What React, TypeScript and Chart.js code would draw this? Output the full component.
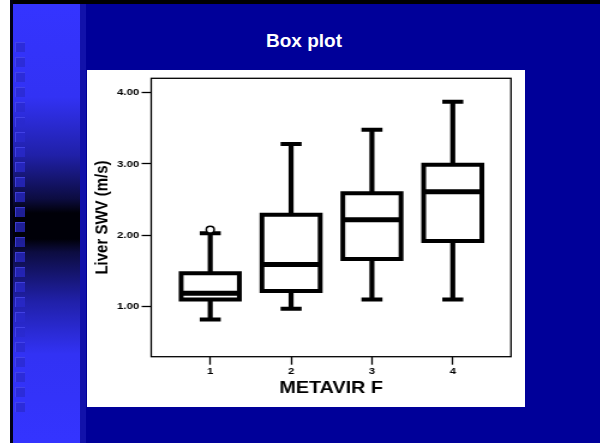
import React, { useEffect, useRef } from 'react';
import { Chart, registerables } from 'chart.js';

Chart.register(...registerables);

// ---- data ----
const categories = ['1', '2', '3', '4'];
const whiskerLow = [0.82, 0.97, 1.1, 1.1];
const quartile1 = [1.1, 1.22, 1.67, 1.92];
const medians = [1.19, 1.59, 2.22, 2.61];
const quartile3 = [1.47, 2.29, 2.59, 2.99];
const whiskerHigh = [2.03, 3.28, 3.48, 3.87];
const outlierCategory = [1];
const outlierValue = [2.08];
const yTickValues = [1, 2, 3, 4];
const xLabel = 'METAVIR F';
const yLabel = 'Liver SWV (m/s)';
const slideTitle = 'Box plot';

const FONT = "'Liberation Sans', Arial, Helvetica, sans-serif";
const BOX_HALF = 0.36;
const CAP_HALF = 0.13;

const framePlugin = {
  id: 'frame',
  beforeDatasetsDraw(chart: any) {
    const { ctx, chartArea: a } = chart;
    ctx.save();
    ctx.strokeStyle = '#000';
    ctx.lineWidth = 1.3;
    ctx.strokeRect(a.left, a.top, a.right - a.left, a.bottom - a.top);
    ctx.restore();
  },
};

function buildDatasets() {
  const brk = (x: number) => ({ x, y: null as any });
  const boxes: any[] = [];
  const meds: any[] = [];
  const whiskers: any[] = [];
  const caps: any[] = [];
  categories.forEach((_, i) => {
    const c = i + 1;
    boxes.push(
      { x: c, y: quartile1[i] },
      { x: c + BOX_HALF, y: quartile1[i] },
      { x: c + BOX_HALF, y: quartile3[i] },
      { x: c - BOX_HALF, y: quartile3[i] },
      { x: c - BOX_HALF, y: quartile1[i] },
      { x: c, y: quartile1[i] },
      brk(c)
    );
    meds.push({ x: c - BOX_HALF, y: medians[i] }, { x: c + BOX_HALF, y: medians[i] }, brk(c));
    whiskers.push(
      { x: c, y: quartile3[i] },
      { x: c, y: whiskerHigh[i] },
      brk(c),
      { x: c, y: quartile1[i] },
      { x: c, y: whiskerLow[i] },
      brk(c)
    );
    caps.push(
      { x: c - CAP_HALF, y: whiskerHigh[i] },
      { x: c + CAP_HALF, y: whiskerHigh[i] },
      brk(c),
      { x: c - CAP_HALF, y: whiskerLow[i] },
      { x: c + CAP_HALF, y: whiskerLow[i] },
      brk(c)
    );
  });
  const lineStyle = {
    showLine: true,
    borderColor: '#000',
    pointRadius: 0,
    pointHoverRadius: 0,
    pointHitRadius: 0,
    spanGaps: false,
    tension: 0,
    borderJoinStyle: 'miter',
    borderCapStyle: 'butt',
    fill: false,
  };
  return [
    {
      label: 'outliers',
      data: outlierCategory.map((c, i) => ({ x: c, y: outlierValue[i] })),
      showLine: false,
      pointRadius: 3.3,
      pointBackgroundColor: '#fff',
      pointBorderColor: '#000',
      pointBorderWidth: 1.5,
    },
    { label: 'medians', data: meds, borderWidth: 5, ...lineStyle },
    { label: 'boxes', data: boxes, borderWidth: 4, ...lineStyle },
    { label: 'caps', data: caps, borderWidth: 4, ...lineStyle },
    { label: 'whiskers', data: whiskers, borderWidth: 4.2, ...lineStyle },
  ];
}

function BoxPlot() {
  const ref = useRef<HTMLCanvasElement | null>(null);
  useEffect(() => {
    if (!ref.current) return;
    const tickFont = { family: FONT, size: 9.5, weight: 'bold' as const };
    const chart = new Chart(ref.current, {
      type: 'scatter',
      data: { datasets: buildDatasets() as any },
      options: {
        responsive: false,
        animation: false,
        events: [],
        layout: { padding: { top: 8.3, right: 11.7, bottom: 0, left: 0 } },
        plugins: {
          legend: { display: false },
          tooltip: { enabled: false },
          title: { display: false },
        },
        scales: {
          x: {
            type: 'linear',
            min: 0.27,
            max: 4.72,
            afterBuildTicks: (s: any) => {
              s.ticks = categories.map((_, i) => ({ value: i + 1 }));
            },
            afterFit: (s: any) => {
              s.height = 50.3;
            },
            ticks: {
              autoSkip: false,
              maxRotation: 0,
              padding: 1,
              color: '#000',
              font: tickFont,
              callback: (_v: any, i: number) => categories[i],
            },
            grid: {
              display: true,
              drawOnChartArea: false,
              drawTicks: true,
              tickLength: 8,
              tickColor: '#000',
              tickWidth: 1.3,
            },
            border: { display: false },
            title: {
              display: true,
              text: xLabel,
              color: '#000',
              font: { family: FONT, size: 16.5, weight: 'bold' },
              padding: { top: 0, bottom: 8.5 },
            },
          },
          y: {
            type: 'linear',
            min: 0.3,
            max: 4.2,
            afterBuildTicks: (s: any) => {
              s.ticks = yTickValues.map((v) => ({ value: v }));
            },
            afterFit: (s: any) => {
              s.width = 53.5;
            },
            ticks: {
              padding: 2,
              color: '#000',
              font: tickFont,
              callback: (v: any) => Number(v).toFixed(2),
            },
            grid: {
              display: true,
              drawOnChartArea: false,
              drawTicks: true,
              tickLength: 8,
              tickColor: '#000',
              tickWidth: 1.3,
            },
            border: { display: false },
            title: {
              display: true,
              text: yLabel,
              color: '#000',
              font: { family: FONT, size: 15, weight: 'bold' },
              padding: { top: 4, bottom: 0 },
            },
          },
        },
      } as any,
      plugins: [framePlugin],
    });
    return () => chart.destroy();
  }, []);
  return (
    <canvas
      ref={ref}
      width={365}
      height={337}
      style={{ width: '438px', height: '337px', display: 'block' }}
    />
  );
}

export default function App() {
  const squares = Array.from({ length: 25 }, (_, i) => i);
  return (
    <div
      style={{
        position: 'absolute',
        left: 0,
        top: 0,
        width: 600,
        height: 443,
        background: '#fff',
        overflow: 'hidden',
      }}
    >
      <div
        style={{
          position: 'absolute',
          left: 10,
          top: 0,
          width: 590,
          height: 443,
          background: '#000099',
        }}
      />
      {/* top and left dark border */}
      <div style={{ position: 'absolute', left: 10, top: 0, width: 590, height: 4, background: '#000' }} />
      <div style={{ position: 'absolute', left: 10, top: 0, width: 3, height: 443, background: '#000018' }} />
      {/* left gradient bar */}
      <div
        style={{
          position: 'absolute',
          left: 13,
          top: 4,
          width: 67,
          height: 439,
          background:
            'linear-gradient(to bottom, #3434ff 0px, #3232f4 93px, #2020a8 151px, #0c0c40 195px, #000008 209px, #000008 235px, #0c0c40 248px, #2020a8 297px, #3232f4 350px, #3434ff 439px)',
        }}
      />
      <div style={{ position: 'absolute', left: 80, top: 4, width: 6, height: 439, background: '#1212aa' }} />
      {squares.map((i) => (
        <div
          key={i}
          style={{
            position: 'absolute',
            left: 15,
            top: 42 + i * 15,
            width: 10,
            height: 10,
            background: 'rgba(42,42,205,0.72)',
            boxSizing: 'border-box',
            borderTop: '1px solid rgba(90,90,255,0.5)',
            borderLeft: '1px solid rgba(90,90,255,0.5)',
          }}
        />
      ))}
      <div
        style={{
          position: 'absolute',
          left: 204,
          top: 31,
          width: 200,
          textAlign: 'center',
          color: '#fff',
          fontFamily: FONT,
          fontWeight: 'bold',
          fontSize: 19,
          lineHeight: '19px',
        }}
      >
        {slideTitle}
      </div>
      <div
        style={{
          position: 'absolute',
          left: 87,
          top: 70,
          width: 438,
          height: 337,
          background: '#fff',
        }}
      >
        <BoxPlot />
      </div>
    </div>
  );
}
